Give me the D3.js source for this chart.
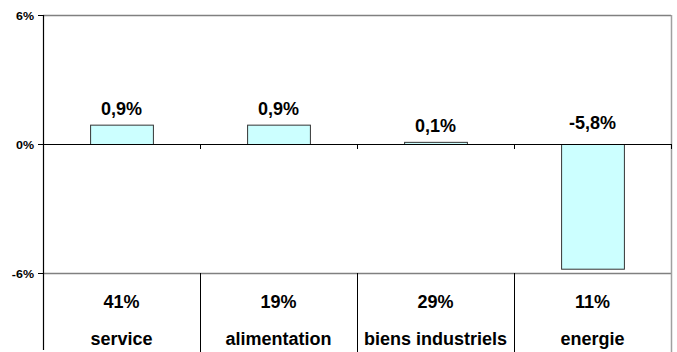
<!DOCTYPE html>
<html>
<head>
<meta charset="utf-8">
<script src="https://cdn.jsdelivr.net/npm/d3@7"></script>
<style>
  body { margin: 0; background: #fff; }
  text { font-family: "Liberation Sans", Arial, sans-serif; font-weight: bold; fill: #000; }
</style>
</head>
<body>
<script>
const categories = ["service", "alimentation", "biens industriels", "energie"];
const values = [0.9, 0.9, 0.1, -5.8];
const weights = ["41%", "19%", "29%", "11%"];
const yTicks = [-6, 0, 6];

const width = 677, height = 352;
const plotLeft = 43, plotRight = 671, plotTop = 15, plotBottom = 273;

const svg = d3.select("body").append("svg")
  .attr("width", width)
  .attr("height", height);

const x = d3.scaleBand().domain(categories).range([plotLeft, plotRight]).paddingInner(0).paddingOuter(0);
const y = d3.scaleLinear().domain([-6, 6]).range([plotBottom, plotTop]);

const fmt = v => String(v).replace(".", ",") + "%";

// horizontal lines at 6% and -6%
svg.append("g").selectAll("line")
  .data([6, -6])
  .join("line")
  .attr("x1", plotLeft).attr("x2", plotRight)
  .attr("y1", d => y(d) + 0.5).attr("y2", d => y(d) + 0.5)
  .attr("stroke", "#808080").attr("stroke-width", 1.5);

// right border
svg.append("line")
  .attr("x1", plotRight + 0.5).attr("x2", plotRight + 0.5)
  .attr("y1", plotTop).attr("y2", height)
  .attr("stroke", "#a0a0a0").attr("stroke-width", 1.5);

// bars
const bw = x.bandwidth() * 0.4;
svg.append("g").selectAll("rect")
  .data(values)
  .join("rect")
  .attr("x", (d, i) => x(categories[i]) + (x.bandwidth() - bw) / 2 + 0.5)
  .attr("y", d => y(Math.max(d, 0)) + 0.5)
  .attr("width", bw)
  .attr("height", d => Math.abs(y(d) - y(0)))
  .attr("fill", "#ccffff")
  .attr("stroke", "#333")
  .attr("stroke-width", 1);

// zero line with ticks
svg.append("line")
  .attr("x1", plotLeft).attr("x2", plotRight)
  .attr("y1", y(0) + 0.5).attr("y2", y(0) + 0.5)
  .attr("stroke", "#000").attr("stroke-width", 1);
svg.append("g").selectAll("line")
  .data(categories.slice(1).concat([null]))
  .join("line")
  .attr("x1", d => (d ? x(d) : plotRight) + 0.5)
  .attr("x2", d => (d ? x(d) : plotRight) + 0.5)
  .attr("y1", y(0)).attr("y2", y(0) + 5)
  .attr("stroke", "#000");

// y axis
svg.append("line")
  .attr("x1", plotLeft + 0.5).attr("x2", plotLeft + 0.5)
  .attr("y1", plotTop).attr("y2", height - 2)
  .attr("stroke", "#000").attr("stroke-width", 1.2);
svg.append("g").selectAll("line")
  .data(yTicks)
  .join("line")
  .attr("x1", plotLeft - 5).attr("x2", plotLeft)
  .attr("y1", d => y(d) + 0.5).attr("y2", d => y(d) + 0.5)
  .attr("stroke", "#000");
svg.append("g").selectAll("text")
  .data(yTicks)
  .join("text")
  .attr("transform", d => `translate(34,${y(d) + 5}) scale(1.25,1)`)
  .attr("text-anchor", "end")
  .attr("font-size", 10)
  .text(d => d + "%");

// value labels
svg.append("g").selectAll("text")
  .data(values)
  .join("text")
  .attr("x", (d, i) => x(categories[i]) + x.bandwidth() / 2)
  .attr("y", d => d >= 0 ? y(d) - 10 : y(0) - 15)
  .attr("text-anchor", "middle")
  .attr("font-size", 18)
  .text(fmt);

// table below
svg.append("g").selectAll("line")
  .data(categories.slice(1))
  .join("line")
  .attr("x1", d => x(d) + 0.5).attr("x2", d => x(d) + 0.5)
  .attr("y1", plotBottom).attr("y2", height)
  .attr("stroke", "#000");
svg.append("g").selectAll("text")
  .data(weights)
  .join("text")
  .attr("x", (d, i) => x(categories[i]) + x.bandwidth() / 2)
  .attr("y", 308)
  .attr("text-anchor", "middle")
  .attr("font-size", 18)
  .text(d => d);
svg.append("g").selectAll("text")
  .data(categories)
  .join("text")
  .attr("x", d => x(d) + x.bandwidth() / 2)
  .attr("y", 345)
  .attr("text-anchor", "middle")
  .attr("font-size", 18)
  .text(d => d);
</script>
</body>
</html>
